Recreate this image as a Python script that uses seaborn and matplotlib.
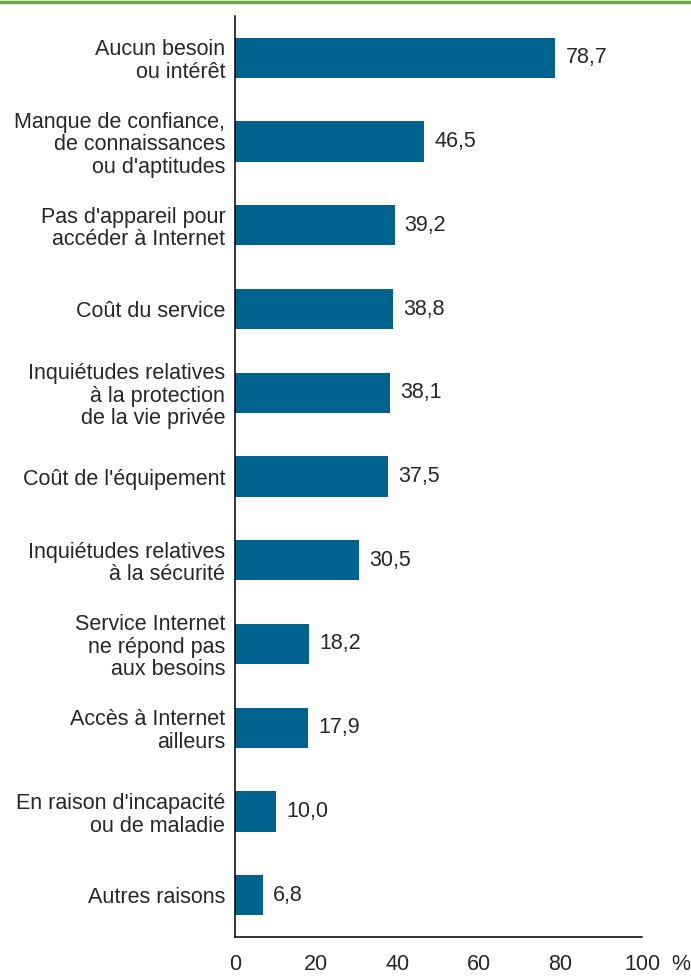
import matplotlib
matplotlib.use("Agg")
import matplotlib.pyplot as plt
import matplotlib.transforms as mtransforms
import seaborn as sns
import pandas as pd
import numpy as np

categories = [
    "Aucun besoin\nou intérêt",
    "Manque de confiance,\nde connaissances\nou d'aptitudes",
    "Pas d'appareil pour\naccéder à Internet",
    "Coût du service",
    "Inquiétudes relatives\nà la protection\nde la vie privée",
    "Coût de l'équipement",
    "Inquiétudes relatives\nà la sécurité",
    "Service Internet\nne répond pas\naux besoins",
    "Accès à Internet\nailleurs",
    "En raison d'incapacité\nou de maladie",
    "Autres raisons",
]
values = [78.7, 46.5, 39.2, 38.8, 38.1, 37.5, 30.5, 18.2, 17.9, 10.0, 6.8]
value_labels = ["78,7", "46,5", "39,2", "38,8", "38,1", "37,5", "30,5", "18,2", "17,9", "10,0", "6,8"]
xticks = [0, 20, 40, 60, 80, 100]

sns.set_style("white")
plt.rcParams["font.family"] = ["Liberation Sans", "DejaVu Sans"]
TXT = "#2a2627"
BAR = "#00638f"
FS = 15.5

df = pd.DataFrame({"cat": categories, "val": values})

fig = plt.figure(figsize=(6.91, 9.77), dpi=100)
ax = fig.add_axes([235/691, 1-937/977, (642-235)/691, (937-16)/977])

sns.barplot(data=df, y="cat", x="val", orient="h", color=BAR, width=0.48,
            saturation=1, ax=ax, edgecolor="none")

ax.set_xlim(0, 100)
ax.set_ylim(len(categories)-0.5, -0.5)
ax.set_xlabel("")
ax.set_ylabel("")
for s in ["top", "right"]:
    ax.spines[s].set_visible(False)
for s in ["left", "bottom"]:
    ax.spines[s].set_color("black")
    ax.spines[s].set_linewidth(1.1)

ax.set_xticks(xticks)
ax.set_xticklabels([str(t) for t in xticks], fontsize=FS, color=TXT)
ax.tick_params(axis="x", direction="out", length=5, width=1.1, color="black", pad=7)

ax.set_yticks(range(len(categories)))
ax.set_yticklabels(categories, fontsize=FS, color=TXT, linespacing=1.1)
ax.tick_params(axis="y", which="major", length=0, pad=7)
ax.set_yticks(np.arange(-0.5, len(categories)), minor=True)
ax.tick_params(axis="y", which="minor", direction="out", length=5, width=1.1, color="black")

for i, (v, lab) in enumerate(zip(values, value_labels)):
    ax.text(v + 2.5, i, lab, va="center", ha="left", fontsize=FS, color=TXT)

pct_tr = mtransforms.offset_copy(ax.get_xaxis_transform(), fig=fig, y=-12, units="points")
ax.text(109.5, 0, "%", transform=pct_tr, ha="center", va="top", fontsize=FS, color=TXT,
        clip_on=False)

# green top rule
fig.add_artist(plt.Line2D([0, 1], [1-1.5/977, 1-1.5/977], transform=fig.transFigure,
                          color="#6aaa3f", linewidth=2.5))

fig.savefig("out.png", dpi=100)
